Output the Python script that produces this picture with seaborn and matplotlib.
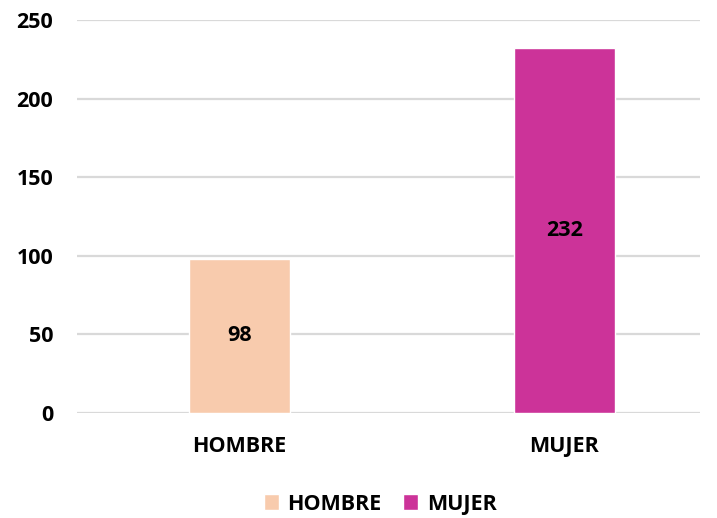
import matplotlib
matplotlib.use("Agg")
import matplotlib.pyplot as plt
import seaborn as sns
import pandas as pd
from matplotlib.patches import Patch

categories = ["HOMBRE", "MUJER"]
values = [98, 232]
colors = ["#F8CBAD", "#CC3399"]
yticks = [0, 50, 100, 150, 200, 250]

sns.set_theme(style="white")
plt.rcParams['font.family'] = ['Open Sans', 'DejaVu Sans']
plt.rcParams['text.color'] = 'black'

df = pd.DataFrame({"cat": categories, "val": values})

fig = plt.figure(figsize=(7.17, 5.18), dpi=100)
ax = fig.add_axes([0.107, 0.203, 0.869, 0.758])

sns.barplot(data=df, x="cat", y="val", hue="cat", palette=colors,
            width=0.31, ax=ax, legend=False, saturation=1)

fs = 15.5
ax.set_ylim(0, 250)
ax.set_xlim(-0.5, 1.417)
ax.set_yticks(yticks)
ax.set_yticklabels([str(t) for t in yticks], fontsize=fs, fontweight="bold", color="black")
ax.set_xticks(range(len(categories)))
ax.set_xticklabels(categories, fontsize=fs, fontweight="bold", color="black")
ax.tick_params(axis="y", length=0, pad=17)
ax.tick_params(axis="x", length=0, pad=17)
ax.set_xlabel("")
ax.set_ylabel("")
ax.yaxis.grid(True, color="#D9D9D9", linewidth=1.6)
ax.set_axisbelow(True)
for s in ax.spines.values():
    s.set_visible(False)

for i, v in enumerate(values):
    ax.text(i, v / 2, str(v), ha="center", va="center", fontsize=fs,
            fontweight="bold", color="black")

handles = [Patch(facecolor=c, label=l) for c, l in zip(colors, categories)]
leg = fig.legend(handles=handles, loc="center", bbox_to_anchor=(0.53, 0.027), ncol=2,
                 frameon=False, prop={"size": fs, "weight": "bold"},
                 handlelength=0.7, handleheight=0.7, handletextpad=0.4, columnspacing=1.0)
for t in leg.get_texts():
    t.set_color("black")

fig.savefig("out.png", dpi=100)
